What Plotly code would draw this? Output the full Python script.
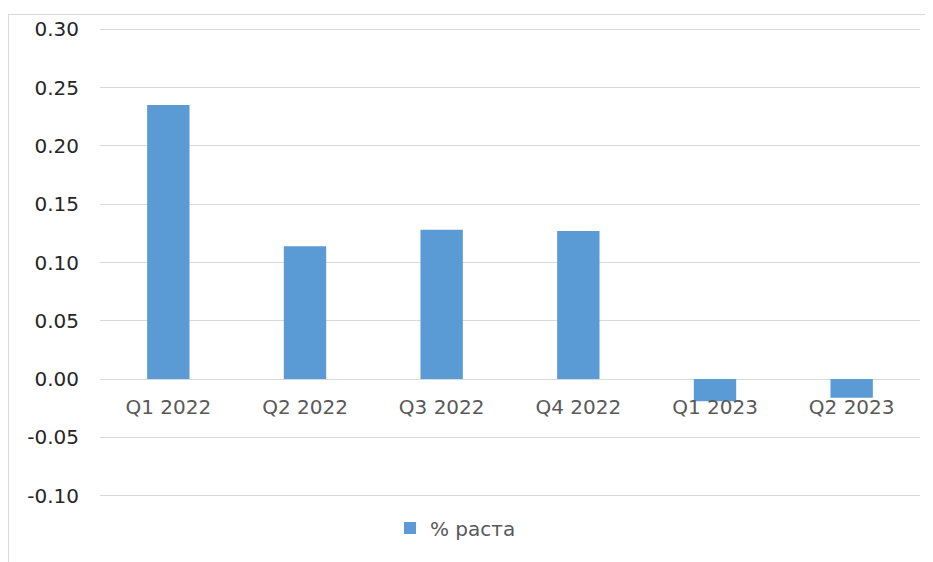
import plotly.graph_objects as go

categories = ["Q1 2022", "Q2 2022", "Q3 2022", "Q4 2022", "Q1 2023", "Q2 2023"]
growth = [0.235, 0.114, 0.128, 0.127, -0.019, -0.016]
series_name = "% раста"
y_ticks = [-0.10, -0.05, 0.00, 0.05, 0.10, 0.15, 0.20, 0.25, 0.30]
y_tick_labels = ["-0.10", "-0.05", "0.00", "0.05", "0.10", "0.15", "0.20", "0.25", "0.30"]

# page body has an 8px margin, so figure coords = screen coords - 8
OFF = 8
W, H = 933, 562
L, R, T, B = 92, 21, 19, 72
pw, ph = W - L - R, H - T - B

def px_x(sx):
    return (sx - OFF - L) / pw

def px_y(sy):
    return (H - B - (sy - OFF)) / ph

FONT = "DejaVu Sans"
ymin, ymax = -0.102, 0.302

fig = go.Figure()
fig.add_trace(go.Bar(
    x=categories, y=growth, name=series_name,
    marker=dict(color="#5B9BD5", line=dict(width=0)),
    width=0.31,
    showlegend=True,
))

fig.update_layout(
    width=W, height=H,
    margin=dict(l=L, r=R, t=T, b=B, autoexpand=False),
    paper_bgcolor="white", plot_bgcolor="white",
    font=dict(family=FONT, size=20, color="#595959"),
    showlegend=True,
    legend=dict(orientation="h", x=px_x(390), xanchor="left", y=px_y(528), yanchor="middle",
                font=dict(family=FONT, size=20, color="#595959"),
                itemwidth=30, bgcolor="rgba(0,0,0,0)"),
    xaxis=dict(
        type="category", anchor="free", position=(0 - ymin) / (ymax - ymin),
        showgrid=False, showline=False, ticks="", zeroline=False,
        tickfont=dict(family=FONT, size=20, color="#595959"),
        ticklabelstandoff=14,
    ),
    yaxis=dict(
        range=[ymin, ymax], tickvals=y_ticks, ticktext=y_tick_labels,
        showgrid=True, gridcolor="#D9D9D9", gridwidth=1,
        zeroline=True, zerolinecolor="#D9D9D9", zerolinewidth=1,
        showline=False, ticks="",
        tickfont=dict(family=FONT, size=20, color="#262626"),
        ticklabelstandoff=20,
    ),
    bargap=0.69,
)

# chart frame (left and top border)
fig.add_shape(type="line", xref="paper", yref="paper",
              x0=px_x(8.5), x1=px_x(8.5), y0=px_y(14), y1=px_y(570),
              line=dict(color="#D9D9D9", width=1))
fig.add_shape(type="line", xref="paper", yref="paper",
              x0=px_x(8.5), x1=px_x(945), y0=px_y(14.5), y1=px_y(14.5),
              line=dict(color="#D9D9D9", width=1))

fig.write_html("out.html")
